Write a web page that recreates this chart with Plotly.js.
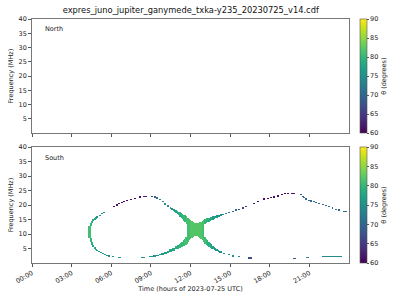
<!DOCTYPE html>
<html>
<head>
<meta charset="utf-8">
<script src="https://cdn.plot.ly/plotly-3.0.1.min.js"></script>
<style>html,body{margin:0;padding:0;background:#fff}#chart{width:400px;height:300px}</style>
</head>
<body>
<div id="chart"></div>
<script>
// ---- data: emission samples (hour of day, freq low, freq high [MHz], theta [deg]) ----
// upper-left arc (dotted)
const ulDotHour = [6.2,6.4,6.6,6.8,7.0,7.2,7.5,7.8,8.15,8.5,8.65,9.1,9.3,9.5,9.7,9.9,10.1,10.3];
const ulDotLow  = [19.4,19.8,20.2,20.6,21.0,21.4,21.8,22.2,22.6,22.8,22.8,22.8,22.6,22.2,21.6,20.9,20.1,19.3];
const ulDotHigh = [19.8,20.2,20.6,21.0,21.4,21.8,22.2,22.6,23.0,23.2,23.2,23.2,23.0,22.7,22.2,21.5,20.7,19.9];
const ulDotTheta= [61,61,61,61,61,61,61,61,61.5,62,62,68,69,71,73,74,75,75];
// upper-left arm (continuous, into the X)
const ulArmHour = [10.5,10.6,10.7,10.8,10.9,11.0,11.1,11.2,11.3,11.4,11.5,11.6,11.7];
const ulArmLow  = [18.7,18.4,18.0,17.7,17.3,16.9,16.5,16.0,15.6,15.1,14.6,14.1,13.6];
const ulArmHigh = [19.3,19.0,18.7,18.5,18.2,18.0,17.7,17.5,17.2,17.0,16.7,16.4,16.1];
const ulArmTheta= [76,76,77,77,78,78,79,79,79,80,80,80,81];
// left arc
const lArcHour  = [4.95,4.85,4.75,4.65,4.55,4.45,4.35,4.45,4.55,4.65,4.75,4.85,4.95,5.05,5.2,5.35,5.5,5.65,5.85,6.1];
const lArcLow   = [15.7,15.3,14.9,14.4,13.7,12.7,8.5,7.2,6.2,5.5,4.9,4.5,4.1,3.8,3.3,3.0,2.7,2.4,2.2,2.0];
const lArcHigh  = [16.1,15.9,15.5,15.1,14.6,13.9,12.9,8.7,7.3,6.3,5.6,5.0,4.6,4.2,3.7,3.4,3.1,2.8,2.6,2.4];
const lArcTheta = [76,77,78,78,79,80,81,80,79,78,78,77,77,76,76,76,75,75,75,75];
// left arc dotted ends and low floor dashes
const lDotHour  = [5.15,5.3,5.45,6.6,6.7,8.35,8.45,8.9,9.1];
const lDotLow   = [16.3,16.8,17.3,1.8,1.8,1.8,1.8,1.9,2.0];
const lDotHigh  = [16.7,17.2,17.7,2.2,2.2,2.2,2.2,2.3,2.4];
const lDotTheta = [75,75,75,75,75,75,75,75,75];
// lower-left arm (continuous)
const llArmHour = [9.3,9.5,9.7,9.9,10.1,10.3,10.5,10.7,10.9,11.0,11.1,11.2,11.3,11.4,11.5,11.6,11.7];
const llArmLow  = [2.2,2.4,2.6,2.9,3.2,3.5,3.9,4.3,4.7,4.9,5.1,5.3,5.5,5.8,6.0,6.3,6.6];
const llArmHigh = [2.6,2.8,3.0,3.4,3.8,4.2,4.7,5.1,5.7,6.0,6.3,6.6,7.0,7.4,7.8,8.4,9.0];
const llArmTheta= [75,75,76,76,77,77,78,78,79,79,79,80,80,80,80,81,81];
// central body of the X
const bodyHour  = [11.8,11.9,12.0,12.1,12.2,12.3,12.4,12.5,12.6,12.7,12.8,12.9,13.0];
const bodyLow   = [7.2,7.8,8.3,8.7,9.0,9.2,9.3,9.3,9.1,8.8,8.4,7.9,7.3];
const bodyHigh  = [15.6,15.2,14.8,14.4,14.1,13.9,13.8,13.8,13.9,14.1,14.3,14.6,14.9];
const bodyTheta = [81,81,82,82,82,82,82,82,82,82,82,81,81];
// upper-right arm (continuous)
const urArmHour = [13.1,13.2,13.3,13.4,13.5,13.6,13.7,13.8,13.9,14.0,14.1,14.2,14.3,14.4,14.5];
const urArmLow  = [13.4,13.7,14.0,14.3,14.5,14.8,15.0,15.2,15.4,15.6,15.8,16.0,16.2,16.4,16.5];
const urArmHigh = [15.2,15.4,15.5,15.7,15.8,16.0,16.1,16.2,16.3,16.5,16.6,16.7,16.8,16.9,17.0];
const urArmTheta= [80,80,79,79,78,78,77,77,76,76,75,75,75,74,74];
// upper-right arc (dotted)
const urDotHour = [14.7,14.95,15.2,15.45,15.7,15.95,16.2,16.8,17.1,17.6,17.85,18.1,18.35,18.6,18.9,19.15,19.4,19.65,19.85,20.35,20.5,20.6,20.75,20.95,21.1,21.35,21.5,21.75,22.0,22.25,22.5,22.75,23.0,23.25,23.6,23.75];
const urDotLow  = [16.9,17.3,17.7,18.1,18.4,18.8,19.2,20.4,21.0,21.9,22.1,22.3,22.6,22.9,23.3,23.8,23.8,23.8,23.7,23.3,22.7,22.3,21.9,21.5,21.2,20.9,20.7,20.4,20.0,19.7,19.2,18.8,18.4,18.1,17.7,17.7];
const urDotHigh = [17.3,17.7,18.1,18.5,18.8,19.2,19.6,20.8,21.4,22.3,22.5,22.7,23.0,23.3,23.7,24.2,24.2,24.2,24.1,23.7,23.1,22.7,22.3,21.9,21.6,21.3,21.1,20.8,20.4,20.1,19.6,19.2,18.8,18.5,18.1,18.1];
const urDotTheta= [73,72,71,70,68,66,65,62,61,61,61,61,61,61,61,61,61,61,62,68,69,70,70,70,70,70,70,70,70,70,70,70,70,70,70,70];
// lower-right arm (continuous)
const lrArmHour = [13.1,13.2,13.3,13.4,13.5,13.6,13.7,13.8,13.9,14.0,14.1,14.2,14.3];
const lrArmLow  = [6.6,6.2,5.9,5.5,5.2,4.9,4.7,4.4,4.2,4.0,3.8,3.6,3.5];
const lrArmHigh = [9.0,8.4,7.8,7.3,6.8,6.4,6.0,5.6,5.3,5.0,4.6,4.3,4.1];
const lrArmTheta= [81,80,79,79,78,78,77,77,76,76,75,75,75];
// lower-right dots and floor dashes
const lrDotHour = [14.55,14.9,15.2,15.7,16.4,16.55,19.8,19.9,20.8,20.9,22.0,22.1,22.2,22.3,22.4,22.5,22.6,22.7,22.8,22.9,23.0,23.1,23.2,23.3,23.4];
const lrDotLow  = [3.0,2.6,2.2,1.9,1.5,1.5,1.4,1.4,1.7,1.7,2.0,2.0,2.0,2.0,2.0,2.0,2.0,2.0,2.0,2.0,2.0,2.0,2.0,2.0,2.0];
const lrDotHigh = [3.4,3.0,2.6,2.3,1.9,1.9,1.8,1.8,2.1,2.1,2.4,2.4,2.4,2.4,2.4,2.4,2.4,2.4,2.4,2.4,2.4,2.4,2.4,2.4,2.4];
const lrDotTheta= [75,75,75,74,67,67,68,68,74,74,74,74,74,74,74,74,74,74,74,74,74,74,74,74,74];

const hourTicks = [0,3,6,9,12,15,18,21];
const hourTickText = ['00:00','03:00','06:00','09:00','12:00','15:00','18:00','21:00'];
const freqTicks = [5,10,15,20,25,30,35,40];
const thetaTicks = [60,65,70,75,80,85,90];

// ---- build traces ----
function emission(h, lo, hi, th, w) {
  return {
    type: 'bar', x: h, base: lo, y: hi.map((v, i) => v - lo[i]), width: w,
    marker: {color: th, coloraxis: 'coloraxis', line: {width: 0}},
    xaxis: 'x', yaxis: 'y', hoverinfo: 'skip', showlegend: false
  };
}
const traces = [
  emission(ulDotHour, ulDotLow, ulDotHigh, ulDotTheta, 0.15),
  emission(ulArmHour, ulArmLow, ulArmHigh, ulArmTheta, 0.11),
  emission(lArcHour, lArcLow, lArcHigh, lArcTheta, 0.16),
  emission(lDotHour, lDotLow, lDotHigh, lDotTheta, 0.15),
  emission(llArmHour, llArmLow, llArmHigh, llArmTheta, 0.21),
  emission(bodyHour, bodyLow, bodyHigh, bodyTheta, 0.11),
  emission(urArmHour, urArmLow, urArmHigh, urArmTheta, 0.11),
  emission(urDotHour, urDotLow, urDotHigh, urDotTheta, 0.15),
  emission(lrArmHour, lrArmLow, lrArmHigh, lrArmTheta, 0.11),
  emission(lrDotHour, lrDotLow, lrDotHigh, lrDotTheta, 0.15),
  // North panel: no emission, only its colour scale
  {type: 'scatter', mode: 'markers', x: [-5], y: [-5], xaxis: 'x2', yaxis: 'y2',
   marker: {color: [75], coloraxis: 'coloraxis2', size: 1}, hoverinfo: 'skip', showlegend: false}
];

const F = 'DejaVu Sans, sans-serif';
const lineCol = '#555555';
function cbar(y0, len) {
  return {x: 1.031, xanchor: 'left', xpad: 0, y: y0, yanchor: 'bottom', ypad: 0, len: len, lenmode: 'fraction',
    thickness: 7, outlinewidth: 0.6, outlinecolor: lineCol, tickvals: thetaTicks, ticks: 'outside', ticklen: 2,
    tickcolor: lineCol, tickfont: {family: F, size: 6.5, color: '#222'},
    title: {text: 'θ (degrees)', side: 'right', font: {family: F, size: 6.5, color: '#222'}}};
}
const xCommon = {range: [0, 24], tickvals: hourTicks, ticktext: hourTickText, ticks: 'outside', ticklen: 3,
  tickcolor: lineCol, showline: true, linecolor: lineCol, linewidth: 0.8, mirror: true, showgrid: false, zeroline: false,
  tickfont: {family: F, size: 6.5, color: '#222'}};
const yCommon = {range: [0, 40], tickvals: freqTicks, ticks: 'outside', ticklen: 3, tickcolor: lineCol,
  showline: true, linecolor: lineCol, linewidth: 0.8, mirror: true, showgrid: false, zeroline: false,
  tickfont: {family: F, size: 6.5, color: '#222'},
  title: {text: 'Frequency (MHz)', font: {family: F, size: 6.5, color: '#222'}, standoff: 4}};

const layout = {
  width: 400, height: 300,
  margin: {l: 32, r: 50, t: 19, b: 37},
  paper_bgcolor: '#fff', plot_bgcolor: '#fff',
  barmode: 'overlay', bargap: 0,
  font: {family: F, color: '#222'},
  title: {text: 'expres_juno_jupiter_ganymede_txka-y235_20230725_v14.cdf', x: 0.477, xanchor: 'center',
          y: 0.967, yanchor: 'middle', font: {family: F, size: 8.3, color: '#111'}},
  xaxis: Object.assign({}, xCommon, {anchor: 'y', domain: [0, 1], tickangle: -30,
    title: {text: 'Time (hours of 2023-07-25 UTC)', font: {family: F, size: 6.5, color: '#222'}, standoff: 2}}),
  yaxis: Object.assign({}, yCommon, {anchor: 'x', domain: [0, 0.475]}),
  xaxis2: Object.assign({}, xCommon, {anchor: 'y2', domain: [0, 1], showticklabels: false}),
  yaxis2: Object.assign({}, yCommon, {anchor: 'x2', domain: [0.532, 1]}),
  coloraxis: {cmin: 60, cmax: 90, colorscale: 'Viridis', colorbar: cbar(0, 0.475)},
  coloraxis2: {cmin: 60, cmax: 90, colorscale: 'Viridis', colorbar: cbar(0.532, 0.468)},
  annotations: [
    {text: 'North', xref: 'x2 domain', yref: 'y2 domain', x: 0.035, y: 0.91, xanchor: 'left', yanchor: 'middle',
     showarrow: false, font: {family: F, size: 6.5, color: '#222'}},
    {text: 'South', xref: 'x domain', yref: 'y domain', x: 0.035, y: 0.905, xanchor: 'left', yanchor: 'middle',
     showarrow: false, font: {family: F, size: 6.5, color: '#222'}}
  ]
};
Plotly.newPlot('chart', traces, layout, {staticPlot: true, displayModeBar: false});
</script>
</body>
</html>
